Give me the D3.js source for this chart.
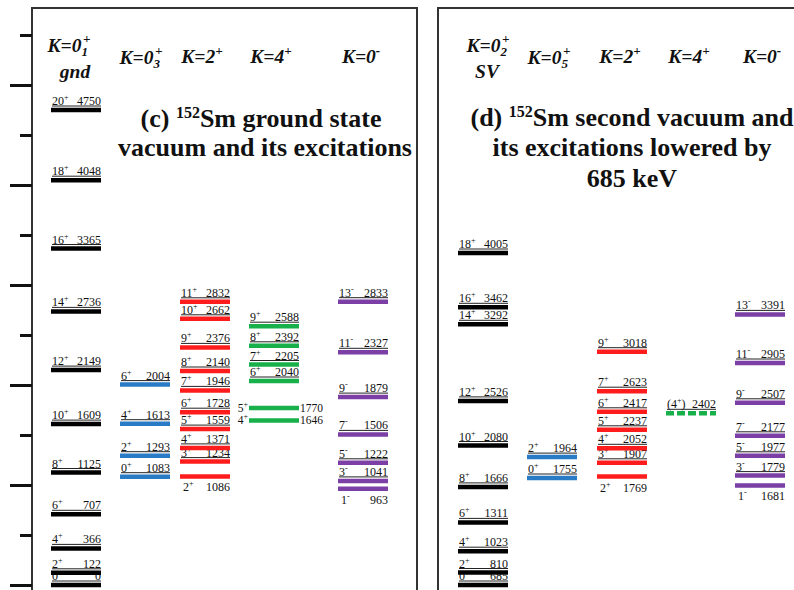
<!DOCTYPE html>
<html>
<head>
<meta charset="utf-8">
<script src="https://cdn.jsdelivr.net/npm/d3@7"></script>
<style>
  body { margin: 0; background: #fff; }
  svg { display: block; }
  text { font-family: "Liberation Serif", "Times New Roman", serif; fill: #111; }
</style>
</head>
<body>
<div id="chart"></div>
<script>
// panel (c): ground state vacuum and its bands
var gndSpin = ["0+", "2+", "4+", "6+", "8+", "10+", "12+", "14+", "16+", "18+", "20+"];
var gndE = [0, 122, 366, 707, 1125, 1609, 2149, 2736, 3365, 4048, 4750];
var k03Spin = ["0+", "2+", "4+", "6+"];
var k03E = [1083, 1293, 1613, 2004];
var k2cSpin = ["2+", "3+", "4+", "5+", "6+", "7+", "8+", "9+", "10+", "11+"];
var k2cE = [1086, 1234, 1371, 1559, 1728, 1946, 2140, 2376, 2662, 2832];
var k4cSpin = ["4+", "5+", "6+", "7+", "8+", "9+"];
var k4cE = [1646, 1770, 2040, 2205, 2392, 2588];
var negcSpin = ["1-", "3-", "5-", "7-", "9-", "11-", "13-"];
var negcE = [963, 1041, 1222, 1506, 1879, 2327, 2833];

// panel (d): second vacuum, shown lowered by 685 keV
var svShift = 685;
var svSpin = ["0+", "2+", "4+", "6+", "8+", "10+", "12+", "14+", "16+", "18+"];
var svE = [685, 810, 1023, 1311, 1666, 2080, 2526, 3292, 3462, 4005];
var k05Spin = ["0+", "2+"];
var k05E = [1755, 1964];
var k2dSpin = ["2+", "3+", "4+", "5+", "6+", "7+", "9+"];
var k2dE = [1769, 1907, 2052, 2237, 2417, 2623, 3018];
var k4dSpin = ["(4+)"];
var k4dE = [2402];
var negdSpin = ["1-", "3-", "5-", "7-", "9-", "11-", "13-"];
var negdE = [1681, 1779, 1977, 2177, 2507, 2905, 3391];

// energy ticks on the left edge (keV)
var tickValues = [0, 500, 1000, 1500, 2000, 2500, 3000, 3500, 4000, 4500, 5000, 5500];

var width = 794, height = 590;
var svg = d3.select("#chart").append("svg")
    .attr("width", width)
    .attr("height", height);

// one energy scale for both panels
var y = d3.scaleLinear().domain([0, 5500]).range([585, 35]);

var colors = d3.scaleOrdinal()
    .domain(["gnd", "k03", "k2", "k4", "neg"])
    .range(["#000000", "#2a7bc6", "#ff1c1c", "#17b04b", "#7b3fa6"]);

var lineW = 50;
var xC = d3.scaleOrdinal().domain(colors.domain()).range([51, 120, 180, 249, 338]);
var xD = d3.scaleOrdinal().domain(colors.domain()).range([458, 527, 597, 666, 735]);

var bandsC = [
    {key: "gnd", spins: gndSpin, energies: gndE},
    {key: "k03", spins: k03Spin, energies: k03E},
    {key: "k2", spins: k2cSpin, energies: k2cE},
    {key: "k4", spins: k4cSpin, energies: k4cE},
    {key: "neg", spins: negcSpin, energies: negcE}
];
var bandsD = [
    {key: "gnd", spins: svSpin, energies: svE},
    {key: "k03", spins: k05Spin, energies: k05E},
    {key: "k2", spins: k2dSpin, energies: k2dE},
    {key: "k4", spins: k4dSpin, energies: k4dE, dashed: true},
    {key: "neg", spins: negdSpin, energies: negdE}
];

// panel frames
svg.append("rect").attr("x", 32).attr("y", 8).attr("width", 385).attr("height", 620)
    .attr("fill", "none").attr("stroke", "#333").attr("stroke-width", 2);
svg.append("rect").attr("x", 438).attr("y", 8).attr("width", 400).attr("height", 620)
    .attr("fill", "none").attr("stroke", "#333").attr("stroke-width", 2);

// left energy axis, ticks only (frame is the axis line)
var axis = svg.append("g")
    .attr("transform", "translate(32,0)")
    .call(d3.axisLeft(y).tickValues(tickValues).tickSize(12).tickFormat(""));
axis.select(".domain").remove();
axis.selectAll(".tick line")
    .attr("stroke", "#111")
    .attr("stroke-width", 3)
    .attr("x2", function(d) { return d % 1000 === 0 ? -22 : -12; });

// spin text like 10+ with the parity raised
function spinText(sel, s) {
    var m = s.match(/^(\(?)(\d+)([+-])(\)?)$/);
    sel.append("tspan").text(m[1] + m[2]);
    sel.append("tspan").attr("dy", -5).attr("font-size", "8px").text(m[3]);
    if (m[4]) sel.append("tspan").attr("dy", 5).text(m[4]);
}

function drawPanel(panel, bands, x, shift) {
    var g = svg.append("g");
    bands.forEach(function(b) {
        var x0 = x(b.key), x1 = x0 + lineW;
        b.spins.forEach(function(s, i) {
            var e = b.energies[i];
            var yy = y(e - shift);

            var mode = "above";
            if ((b.key === "k2" || b.key === "neg") && i === 0) mode = "below";
            if (panel === "c" && b.key === "k4" && i < 2) mode = "side";

            var fs = mode === "side" ? "11.5px" : "12px";
            var sp = g.append("text").attr("font-size", fs);
            var en = g.append("text").attr("font-size", fs).text(e);
            if (mode === "above") {
                sp.attr("x", x0 + 1).attr("y", yy - 5);
                en.attr("x", x1).attr("y", yy - 5).attr("text-anchor", "end");
                // the thin underline under each label
                g.append("line")
                    .attr("x1", x0 + 1).attr("x2", x1)
                    .attr("y1", yy - 4).attr("y2", yy - 4)
                    .attr("stroke", "#222").attr("stroke-width", 1);
            } else if (mode === "below") {
                sp.attr("x", x0 + 3).attr("y", yy + 15);
                en.attr("x", x1).attr("y", yy + 15).attr("text-anchor", "end");
            } else {
                sp.attr("x", x0 - 1).attr("y", yy + 4).attr("text-anchor", "end");
                en.attr("x", x1 + 1).attr("y", yy + 4);
            }
            spinText(sp, s);

            g.append("line")
                .attr("x1", x0).attr("x2", x1)
                .attr("y1", yy).attr("y2", yy)
                .attr("stroke", colors(b.key))
                .attr("stroke-width", 4.5)
                .attr("stroke-dasharray", b.dashed ? "8,3" : null);
        });
    });
}

drawPanel("c", bandsC, xC, 0);
drawPanel("d", bandsD, xD, svShift);

// band headers: K=0 with subscript and superscript
function header(cx, yb, sub, sup) {
    var t = svg.append("text")
        .attr("x", cx).attr("y", yb)
        .attr("text-anchor", "middle")
        .attr("font-size", "19.5px")
        .attr("font-weight", "bold")
        .attr("font-style", "italic");
    t.append("tspan").text("K=" + (sub ? "0" : sup.charAt(0)));
    if (sub) {
        t.append("tspan").attr("dy", 4).attr("font-size", "13px").text(sub);
        t.append("tspan").attr("dx", -5).attr("dy", -13).attr("font-size", "13px").text(sup);
    } else {
        t.append("tspan").attr("dy", -8).attr("font-size", "13px").text(sup.charAt(1));
    }
    return t;
}
function plain(cx, yb, txt, size, italic) {
    return svg.append("text")
        .attr("x", cx).attr("y", yb)
        .attr("text-anchor", "middle")
        .attr("font-size", size)
        .attr("font-weight", "bold")
        .attr("font-style", italic ? "italic" : null)
        .text(txt);
}

header(69, 52, "1", "+");
plain(75, 78, "gnd", "19.5px", true);
header(xC("k03") + 21, 64, "3", "+");
header(xC("k2") + 22, 63, null, "2+");
header(xC("k4") + 22, 63, null, "4+");
header(xC("neg") + 23, 63, null, "0-");

header(xD("gnd") + 30, 52, "2", "+");
plain(xD("gnd") + 29, 78, "SV", "19.5px", true);
header(xD("k03") + 22, 64, "5", "+");
header(xD("k2") + 23, 63, null, "2+");
header(xD("k4") + 23, 63, null, "4+");
header(xD("neg") + 27, 63, null, "0-");

// panel titles
function title(cx, yb, before, after) {
    var t = svg.append("text")
        .attr("x", cx).attr("y", yb)
        .attr("text-anchor", "middle")
        .attr("font-size", "26px")
        .attr("font-weight", "bold");
    t.append("tspan").text(before);
    t.append("tspan").attr("dy", -9).attr("font-size", "16px").text("152");
    t.append("tspan").attr("dy", 9).text(after);
}
title(261, 127, "(c) ", "Sm ground state");
plain(265, 156, "vacuum and its excitations", "26px", false);
title(632, 126, "(d) ", "Sm second vacuum and");
plain(632, 156, "its excitations lowered by", "26px", false);
plain(632, 187, "685 keV", "26px", false);
</script>
</body>
</html>
